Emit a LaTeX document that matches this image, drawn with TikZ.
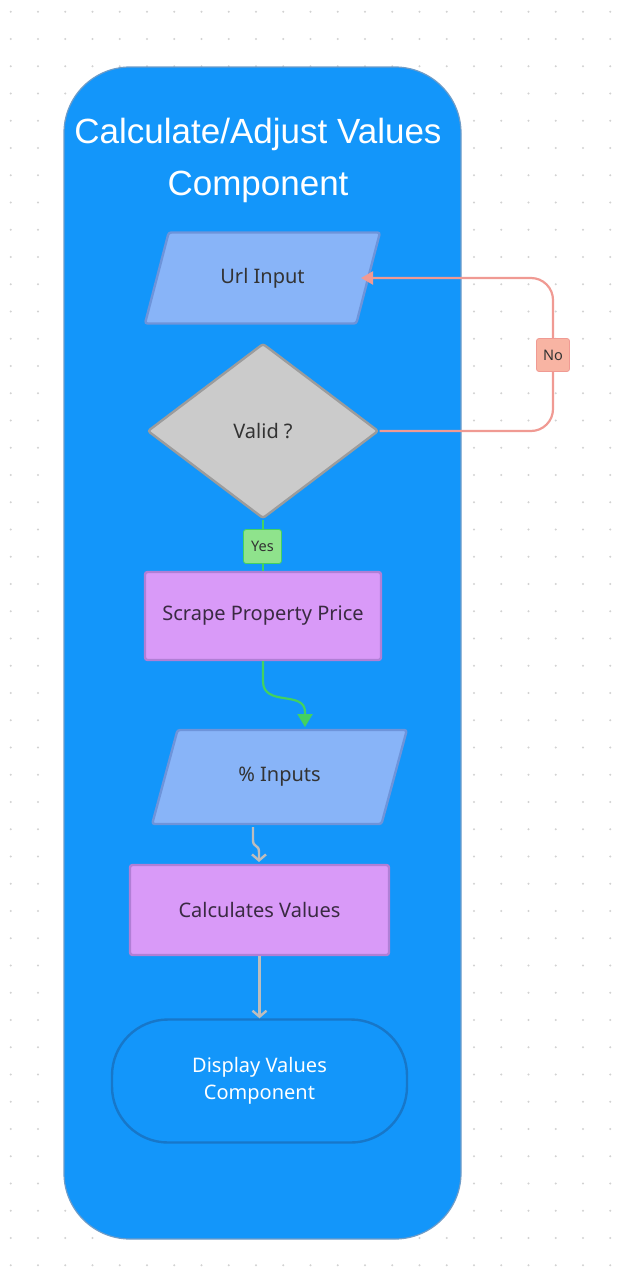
\documentclass[tikz,border=0pt]{standalone}
\usepackage{fontspec}
\setmainfont{Liberation Sans}
\newfontfamily\innerfont{Noto Sans}
\usetikzlibrary{shapes.geometric,arrows.meta}
\definecolor{dotc}{HTML}{D2D2D2}
\definecolor{frameblue}{HTML}{1396FA}
\definecolor{frameedge}{HTML}{6E9CC8}
\definecolor{inblue}{HTML}{88B4F8}
\definecolor{inedge}{HTML}{6E94DA}
\definecolor{decfill}{HTML}{CBCBCB}
\definecolor{decedge}{HTML}{9C9C9C}
\definecolor{procfill}{HTML}{D99AF8}
\definecolor{procedge}{HTML}{B07FD6}
\definecolor{dispedge}{HTML}{1777C9}
\definecolor{txtdark}{HTML}{333333}
\definecolor{proctxt}{HTML}{3A2A42}
\definecolor{nocol}{HTML}{F09A93}
\definecolor{nofill}{HTML}{F8B4A3}
\definecolor{yescol}{HTML}{43D160}
\definecolor{yesfill}{HTML}{8FE38C}
\definecolor{graycol}{HTML}{BDBDBD}
\tikzset{
  iobox/.style={trapezium, trapezium stretches=true, trapezium left angle=62, trapezium right angle=118,
    fill=inblue, draw=inedge, line width=2.4pt, rounded corners=2.5pt, inner sep=0pt,
    font=\innerfont\fontsize{20}{24}\selectfont, text=txtdark},
  procbox/.style={rectangle, fill=procfill, draw=procedge, line width=2.4pt, rounded corners=2.5pt,
    font=\innerfont\fontsize{20}{24}\selectfont, text=proctxt},
  decbox/.style={diamond, fill=decfill, draw=decedge, line width=2.4pt, rounded corners=2.5pt, inner sep=0pt,
    font=\innerfont\fontsize{20}{24}\selectfont, text=txtdark},
  tagbox/.style={rectangle, rounded corners=2.5pt, inner sep=0pt, font=\innerfont\fontsize{14.5}{16}\selectfont, text=txtdark},
  noline/.style={draw=nocol, line width=2.2pt},
  yesline/.style={draw=yescol, line width=2.2pt},
  grayline/.style={draw=graycol, line width=2.4pt},
}
\begin{document}
\begin{tikzpicture}[x=1pt,y=-1pt]
\useasboundingbox (0,0) rectangle (616,1274);
\fill[white] (0,0) rectangle (616,1274);
\foreach \i in {0,...,22}{
  \foreach \j in {0,...,46}{
    \fill[dotc] (10.7+27.25*\i, 11.7+27.25*\j) circle (1.1pt);
  }
}
% container
\node[rectangle, fill=frameblue, draw=frameedge, line width=1.2pt, rounded corners=66pt,
  minimum width=397pt, minimum height=1172pt, inner sep=0pt] (frame) at (262.5,653) {};
\node[text=white, font=\fontsize{35}{52}\selectfont, align=center] (title) at (258,160)
  {Calculate/Adjust Values\\Component};
% nodes
\node[iobox, minimum width=235pt, minimum height=91pt] (url) at (262.5,278) {Url Input};
\node[decbox, minimum width=231pt, minimum height=175pt] (valid) at (263,431) {Valid ?};
\node[procbox, minimum width=236pt, minimum height=88pt] (scrape) at (263,616) {Scrape Property Price};
\node[iobox, minimum width=255pt, minimum height=94pt] (pct) at (279.5,777) {\% Inputs};
\node[procbox, minimum width=259pt, minimum height=90pt] (calc) at (259.5,910) {Calculates Values};
\node[rectangle, fill=frameblue, draw=dispedge, line width=2.4pt, rounded corners=56pt,
  minimum width=295pt, minimum height=123pt, text=white, align=center,
  font=\innerfont\fontsize{20}{27}\selectfont] (disp) at (259.5,1081) {Display Values\\ Component};
% No connector
\coordinate (noturn1) at (553,431);
\coordinate (noturn2) at (553,278);
\coordinate (urlin) at (361,278);
\draw[noline, rounded corners=22pt, -{Triangle[length=12pt,width=13pt]}]
  (valid.east) -- (noturn1) -- (noturn2) -- (urlin);
\node[tagbox, fill=nofill, draw=nocol, line width=0.8pt, minimum width=33pt, minimum height=33pt] (notag) at (553,355) {No};
% Yes connector
\draw[yesline] (valid.south) -- (scrape.north);
\node[tagbox, fill=yesfill, draw=yescol, line width=0.8pt, minimum width=38pt, minimum height=34pt] (yestag) at (262.5,546.5) {Yes};
% green curve
\coordinate (gmid) at (305,712);
\coordinate (gend) at (305,727);
\draw[yesline, -{Triangle[length=13pt,width=15pt]}]
  (scrape.south) -- ++(0,20) .. controls +(0,26) and +(0,-22) .. (gmid) -- (gend);
% gray squiggle
\coordinate (sq1) at (253,827);
\coordinate (sq2) at (259,852);
\coordinate (sqend) at (259,862);
\draw[grayline, -{Straight Barb[length=6pt,width=14pt]}]
  (sq1) -- (253,840) .. controls (253,848) and (259,844) .. (sq2) -- (sqend);
% gray straight
\draw[grayline, -{Straight Barb[length=6pt,width=14pt]}] (calc.south) -- (disp.north);
\end{tikzpicture}
\end{document}
